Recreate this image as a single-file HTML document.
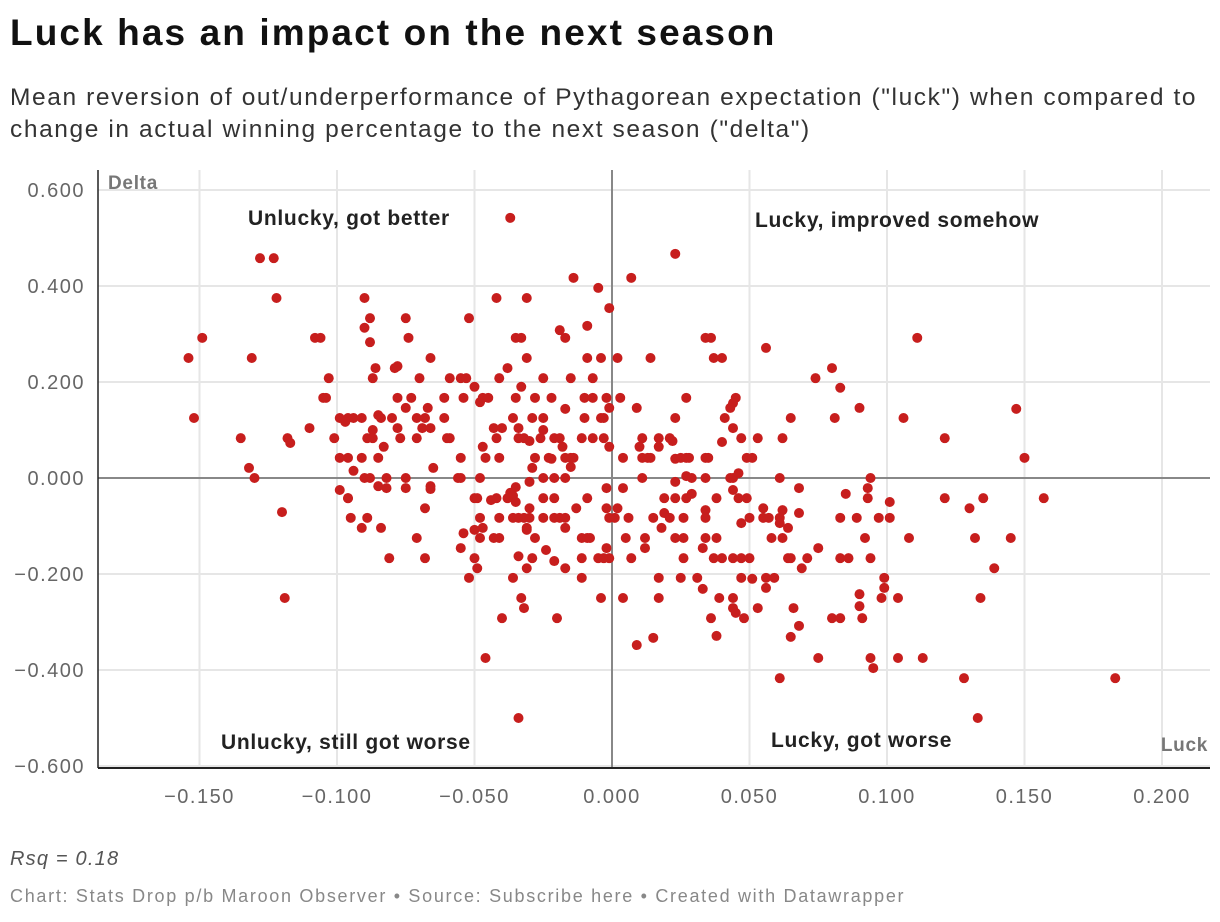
<!DOCTYPE html>
<html><head><meta charset="utf-8"><style>
body{margin:0;background:#fff;width:1220px;height:922px;overflow:hidden;font-family:"Liberation Sans",sans-serif;}
.t{position:absolute;left:10px;top:12px;font-size:37px;font-weight:bold;color:#111;letter-spacing:2.1px}
.s{position:absolute;left:10px;top:82px;font-size:24.5px;color:#333;line-height:32px;letter-spacing:1.6px;white-space:nowrap}
.r{position:absolute;left:10px;top:848px;font-size:20px;font-style:italic;color:#555;letter-spacing:1.2px}
.f{position:absolute;left:10px;top:886px;font-size:18px;color:#888;letter-spacing:1.7px;white-space:nowrap}
svg{position:absolute;left:0;top:0}
</style></head><body>
<div class="t">Luck has an impact on the next season</div>
<div class="s">Mean reversion of out/underperformance of Pythagorean expectation ("luck") when compared to<br>change in actual winning percentage to the next season ("delta")</div>
<div class="r">Rsq = 0.18</div>
<div class="f">Chart: Stats Drop p/b Maroon Observer • Source: Subscribe here • Created with Datawrapper</div>
<svg id="chart" width="1220" height="922"></svg>
<script>
const xTicks=[-0.15,-0.1,-0.05,0,0.05,0.1,0.15,0.2];
const xTickLabels=["\u22120.150","\u22120.100","\u22120.050","0.000","0.050","0.100","0.150","0.200"];
const yTicks=[0.6,0.4,0.2,0,-0.2,-0.4,-0.6];
const yTickLabels=["0.600","0.400","0.200","0.000","\u22120.200","\u22120.400","\u22120.600"];
const luck=[];const delta=[];
const pts=[
[-.128,.458],[-.123,.458],[-.122,.375],[-.090,.375],[-.088,.333],[-.075,.333],[-.052,.333],[-.149,.292],[-.108,.292],[-.106,.292],[-.090,.313],[-.074,.292],[-.088,.283],[-.154,.25],[-.131,.25],[-.066,.25],[-.086,.229],[-.079,.229],[-.078,.233],[-.103,.208],[-.087,.208],[-.070,.208],[-.059,.208],[-.055,.208],[-.053,.208],[-.105,.167],[-.104,.167],[-.078,.167],[-.073,.167],[-.061,.167],[-.054,.167],[-.075,.146],[-.067,.146],[-.152,.125],[-.099,.125],[-.096,.125],[-.094,.125],[-.091,.125],[-.097,.117],[-.085,.131],[-.084,.125],[-.080,.125],[-.071,.125],[-.068,.125],[-.061,.125],[-.110,.104],[-.078,.104],[-.069,.104],[-.066,.104],[-.087,.1],[-.135,.083],[-.118,.083],[-.117,.073],[-.101,.083],[-.089,.083],[-.087,.083],[-.077,.083],[-.071,.083],[-.060,.083],[-.083,.065],[-.099,.042],[-.096,.042],[-.091,.042],[-.085,.042],[-.055,.042],[-.132,.021],[-.065,.021],[-.094,.015],[-.130,0],[-.090,0],[-.088,0],[-.082,0],[-.075,0],[-.056,0],[-.055,0],[-.099,-.025],[-.085,-.017],[-.082,-.021],[-.075,-.021],[-.066,-.017],[-.066,-.023],[-.096,-.042],
[-.037,.542],[.023,.467],[-.014,.417],[.007,.417],[-.005,.396],[-.042,.375],[-.031,.375],[-.001,.354],[-.009,.317],[-.019,.308],[-.017,.292],[-.035,.292],[-.033,.292],[.034,.292],[.036,.292],[-.031,.25],[-.009,.25],[-.004,.25],[.002,.25],[.014,.25],[.037,.25],[.040,.25],[-.038,.229],[-.041,.208],[-.025,.208],[-.015,.208],[-.007,.208],[-.050,.19],[-.033,.19],[-.048,.158],[-.047,.167],[-.045,.167],[-.035,.167],[-.028,.167],[-.022,.167],[-.010,.167],[-.007,.167],[-.002,.167],[.003,.167],[-.001,.146],[-.017,.144],[.009,.146],[.027,.167],[.045,.167],[.044,.156],[.043,.146],[-.036,.125],[-.029,.125],[-.025,.125],[-.010,.125],[-.004,.125],[-.003,.125],[.023,.125],[.041,.125],[-.043,.104],[-.040,.104],[-.034,.104],[-.025,.1],[.044,.104],[-.059,.083],[-.042,.083],[-.034,.083],[-.032,.083],[-.030,.077],[-.026,.083],[-.021,.083],[-.019,.083],[-.011,.083],[-.007,.083],[-.003,.083],[.011,.083],[.017,.083],[.021,.083],[.022,.077],[.047,.083],[.040,.075],[-.047,.065],[-.018,.065],[-.001,.065],[.010,.065],[.017,.065],[-.046,.042],[-.041,.042],[-.028,.042],[-.023,.042],[-.022,.04],[-.017,.042],[-.015,.042],[-.014,.042],[.004,.042],[.011,.042],[.013,.042],[.014,.042],[.023,.04],[.025,.042],[.027,.042],[.028,.042],[.034,.042],[.035,.042],[.049,.042],[-.029,.021],[-.015,.023],[-.030,-.008],[-.048,0],[-.025,0],[-.021,0],[-.017,0],[.011,0],[.023,-.008],[.027,.004],[.029,0],[.034,0],[.043,0],[.044,0],[.046,.01],[-.035,-.019],[-.037,-.031],[-.002,-.021],[.004,-.021],[.044,-.025],
[.056,.271],[.111,.292],[.074,.208],[.080,.229],[.083,.188],[.065,.125],[.081,.125],[.090,.146],[.106,.125],[.147,.144],[.053,.083],[.062,.083],[.121,.083],[.051,.042],[.150,.042],[.061,0],[.094,0],[.068,-.021],[.093,-.021],[.085,-.033],
[.046,-.042],[.049,-.042],[.093,-.042],[.101,-.05],[.121,-.042],[.135,-.042],[.157,-.042],[.055,-.063],[.062,-.067],[.068,-.073],[.130,-.063],[.050,-.083],[.055,-.083],[.057,-.083],[.061,-.083],[.083,-.083],[.089,-.083],[.097,-.083],[.101,-.083],[.047,-.094],[.061,-.094],[.064,-.104],[.058,-.125],[.062,-.125],[.092,-.125],[.108,-.125],[.132,-.125],[.145,-.125],[.075,-.146],[.044,-.167],[.047,-.167],[.050,-.167],[.064,-.167],[.065,-.167],[.071,-.167],[.083,-.167],[.086,-.167],[.094,-.167],[.069,-.188],[.139,-.188],[.047,-.208],[.051,-.21],[.056,-.208],[.059,-.208],[.099,-.208],[.056,-.229],[.099,-.229],[.044,-.25],[.090,-.242],[.098,-.25],[.104,-.25],[.134,-.25],[.044,-.271],[.045,-.281],[.053,-.271],[.066,-.271],[.090,-.267],[.048,-.292],[.080,-.292],[.083,-.292],[.091,-.292],[.068,-.308],[.065,-.331],[.075,-.375],[.094,-.375],[.095,-.396],[.104,-.375],[.113,-.375],[.061,-.417],[.128,-.417],[.183,-.417],[.133,-.5],
[-.050,-.042],[-.049,-.042],[-.044,-.046],[-.042,-.042],[-.038,-.042],[-.036,-.037],[-.035,-.05],[-.025,-.042],[-.021,-.042],[-.009,-.042],[.019,-.042],[.023,-.042],[.027,-.042],[.029,-.033],[.038,-.042],[-.030,-.063],[-.013,-.063],[-.002,-.063],[.002,-.063],[.034,-.067],[-.048,-.083],[-.041,-.083],[-.036,-.083],[-.034,-.083],[-.032,-.083],[-.030,-.083],[-.025,-.083],[-.021,-.083],[-.019,-.083],[-.017,-.083],[-.001,-.083],[.001,-.083],[.006,-.083],[.015,-.083],[.019,-.073],[.021,-.083],[.026,-.083],[.034,-.083],[-.054,-.115],[-.050,-.108],[-.047,-.104],[-.031,-.104],[-.031,-.108],[-.017,-.104],[.018,-.104],[-.048,-.125],[-.043,-.125],[-.041,-.125],[-.028,-.125],[-.011,-.125],[-.009,-.125],[-.008,-.125],[.005,-.125],[.012,-.125],[.023,-.125],[.026,-.125],[.034,-.125],[.038,-.125],[-.055,-.146],[-.024,-.15],[-.002,-.146],[.012,-.146],[.033,-.146],[-.050,-.167],[-.034,-.163],[-.029,-.167],[-.021,-.173],[-.011,-.167],[-.005,-.167],[-.003,-.167],[-.001,-.167],[.007,-.167],[.026,-.167],[.037,-.167],[.040,-.167],[-.049,-.188],[-.031,-.188],[-.017,-.188],[-.052,-.208],[-.036,-.208],[-.011,-.208],[.017,-.208],[.025,-.208],[.031,-.208],[.033,-.231],[-.033,-.25],[-.032,-.271],[-.004,-.25],[.004,-.25],[.017,-.25],[.039,-.25],[-.040,-.292],[-.020,-.292],[.036,-.292],[.038,-.329],[.015,-.333],[.009,-.348],[-.046,-.375],[-.034,-.5],
[-.096,-.042],[-.120,-.071],[-.095,-.083],[-.089,-.083],[-.091,-.104],[-.084,-.104],[-.071,-.125],[-.068,-.063],[-.081,-.167],[-.068,-.167],[-.119,-.25]
];
pts.forEach(p=>{luck.push(p[0]);delta.push(p[1]);});
const NS="http://www.w3.org/2000/svg";
const svg=document.getElementById('chart');
const L=98,R=1210,T=170,B=768;
const sx=v=>612+v*2750, sy=v=>478-v*480;
function mk(tag,attrs,parent){const e=document.createElementNS(NS,tag);for(const k in attrs)e.setAttribute(k,attrs[k]);(parent||svg).appendChild(e);return e;}
xTicks.forEach((v,i)=>{
  if(v!==0){const g=mk('line',{x1:sx(v),x2:sx(v),y1:T,y2:B,stroke:'#e6e6e6','stroke-width':2});
  
  }
  const t=mk('text',{x:sx(v),y:803,'text-anchor':'middle','font-size':20,fill:'#666','letter-spacing':1.5,'font-family':'Liberation Sans, sans-serif'});
  t.textContent=xTickLabels[i];
  
  
});
yTicks.forEach((v,i)=>{
  if(v!==0){const g=mk('line',{x1:L,x2:R,y1:sy(v),y2:sy(v),stroke:'#e6e6e6','stroke-width':2});
  
  }
  const t=mk('text',{x:85,y:sy(v)+7,'text-anchor':'end','font-size':20,fill:'#666','letter-spacing':1.5,'font-family':'Liberation Sans, sans-serif'});
  t.textContent=yTickLabels[i];
  
  
});
const z1=mk('line',{x1:sx(0),x2:sx(0),y1:T,y2:B,stroke:'#888','stroke-width':2});


const z2=mk('line',{x1:L,x2:R,y1:sy(0),y2:sy(0),stroke:'#888','stroke-width':2});


const ax=mk('line',{x1:L,x2:R,y1:B,y2:B,stroke:'#222','stroke-width':2});


const ay=mk('line',{x1:L,x2:L,y1:T,y2:B,stroke:'#222','stroke-width':1.5});


luck.forEach((v,i)=>{
  const c=mk('circle',{cx:sx(v),cy:sy(delta[i]),r:5,fill:'#c71e1d'});
  
  
});
const labels=[["Delta",108,189,'start','#777','y-axis-title'],["Luck",1208,751,'end','#777','x-axis-title'],
["Unlucky, got better",248,225,'start','#222','quadrant-label-unlucky-better'],["Lucky, improved somehow",755,227,'start','#222','quadrant-label-lucky-improved'],
["Unlucky, still got worse",221,749,'start','#222','quadrant-label-unlucky-worse'],["Lucky, got worse",771,747,'start','#222','quadrant-label-lucky-worse']];
labels.forEach(l=>{
  const t=mk('text',{x:l[1],y:l[2],'text-anchor':l[3],'font-size':l[0].length<6?19:21,'font-weight':'bold','letter-spacing':0.7,fill:l[4],'font-family':'Liberation Sans, sans-serif'});
  t.textContent=l[0];
  
  
});
</script>
</body></html>
